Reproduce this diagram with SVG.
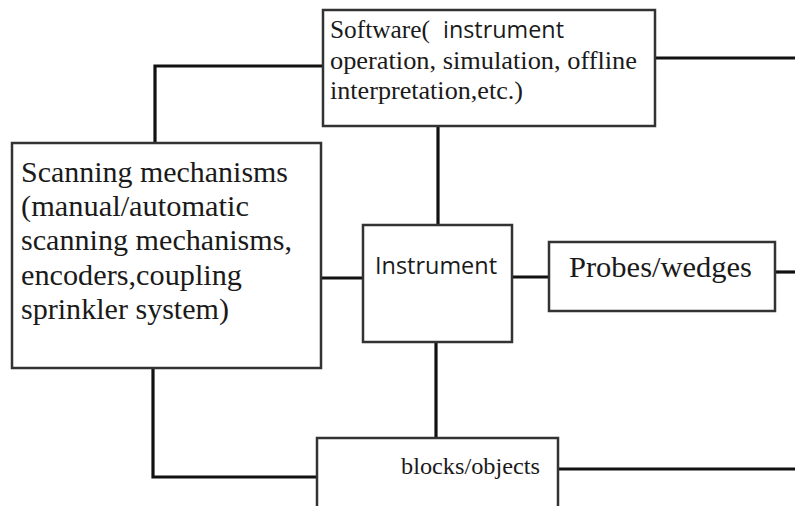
<svg xmlns="http://www.w3.org/2000/svg" width="795" height="506" viewBox="0 0 795 506">
<style>
.box{fill:#fff;stroke:#333;stroke-width:2.5}
.conn{fill:none;stroke:#111;stroke-width:3.2}
.serif{font-family:"Liberation Serif","Times New Roman",serif;fill:#1a1a1a}
.sans{font-family:"Open Sans","Liberation Sans",sans-serif;fill:#1a1a1a}
</style>
<rect width="795" height="506" fill="#fff"/>
<g id="connectors">
<polyline class="conn" points="323,66 155,66 155,143"/>
<line class="conn" x1="655" y1="58" x2="795" y2="58"/>
<line class="conn" x1="438" y1="126" x2="438" y2="225"/>
<line class="conn" x1="321" y1="278" x2="363" y2="278"/>
<line class="conn" x1="512" y1="277" x2="549" y2="277"/>
<line class="conn" x1="775" y1="272" x2="795" y2="272"/>
<line class="conn" x1="436" y1="342" x2="436" y2="438"/>
<polyline class="conn" points="153,368 153,477 317,477"/>
<line class="conn" x1="558" y1="469" x2="795" y2="469"/>
</g>
<g id="software">
<rect class="box" x="323" y="10" width="332" height="116"/>
<text class="serif" x="330" y="38" font-size="25" textLength="100" lengthAdjust="spacingAndGlyphs">Software(</text>
<text class="sans" x="443" y="38" font-size="23" textLength="121" lengthAdjust="spacingAndGlyphs">instrument</text>
<text class="serif" x="330" y="69" font-size="25" textLength="307" lengthAdjust="spacingAndGlyphs">operation, simulation, offline</text>
<text class="serif" x="330" y="99" font-size="25" textLength="193" lengthAdjust="spacingAndGlyphs">interpretation,etc.)</text>
</g>
<g id="scanning">
<rect class="box" x="12" y="143" width="309" height="225"/>
<text class="serif" x="21" y="182" font-size="29" textLength="267" lengthAdjust="spacingAndGlyphs">Scanning mechanisms</text>
<text class="serif" x="21" y="216" font-size="29" textLength="228" lengthAdjust="spacingAndGlyphs">(manual/automatic</text>
<text class="serif" x="21" y="250" font-size="29" textLength="271" lengthAdjust="spacingAndGlyphs">scanning mechanisms,</text>
<text class="serif" x="21" y="285" font-size="29" textLength="221" lengthAdjust="spacingAndGlyphs">encoders,coupling</text>
<text class="serif" x="21" y="319" font-size="29" textLength="208" lengthAdjust="spacingAndGlyphs">sprinkler system)</text>
</g>
<g id="instrument">
<rect class="box" x="363" y="225" width="149" height="117"/>
<text class="sans" x="375" y="274" font-size="23" textLength="122" lengthAdjust="spacingAndGlyphs">Instrument</text>
</g>
<g id="probes">
<rect class="box" x="549" y="242" width="226" height="69"/>
<text class="serif" x="569" y="277" font-size="30" textLength="183" lengthAdjust="spacingAndGlyphs">Probes/wedges</text>
</g>
<g id="blocks">
<rect class="box" x="317" y="438" width="241" height="90"/>
<text class="serif" x="401" y="474" font-size="24" textLength="139" lengthAdjust="spacingAndGlyphs">blocks/objects</text>
</g>
</svg>
